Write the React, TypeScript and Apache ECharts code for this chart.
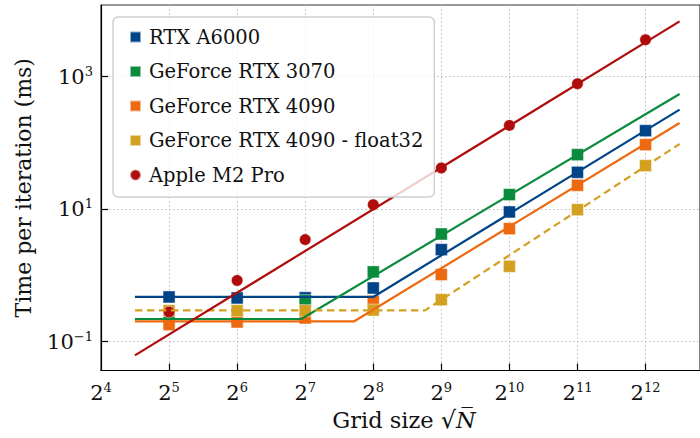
import React, { useEffect, useRef } from "react";
import * as echarts from "echarts";

// ---- data ----
const gridSizes = [32, 64, 128, 256, 512, 1024, 2048, 4096];
const rtxA6000 = [0.473, 0.457, 0.46, 0.646, 2.45, 9.08, 36, 153];
const rtx3070 = [0.215, 0.215, 0.416, 1.13, 4.22, 16.6, 66.5, null];
const rtx4090 = [0.181, 0.198, 0.2275, 0.406, 1.03, 5.08, 22.9, 94.1];
const rtx4090f32 = [0.294, 0.294, 0.294, 0.3, 0.43, 1.37, 9.82, 45.4];
const appleM2 = [0.28, 0.84, 3.47, 11.7, 41.9, 184, 783, 3615];

// fitted model lines (grid size, time)
const fitA6000X = [22.6, 256, 5793];
const fitA6000Y = [0.473, 0.473, 318];
const fit3070X = [22.6, 123, 5793];
const fit3070Y = [0.22, 0.22, 548];
const fit4090X = [22.6, 211, 5793];
const fit4090Y = [0.203, 0.203, 200];
const fit4090f32X = [22.6, 434, 5793];
const fit4090f32Y = [0.297, 0.297, 96.4];
const fitM2X = [22.6, 5793];
const fitM2Y = [0.062, 6840];

const xLabelTicks = [16, 32, 64, 128, 256, 512, 1024, 2048, 4096];
const yLabelTicks = [0.1, 10, 1000];

const names = [
  "RTX A6000",
  "GeForce RTX 3070",
  "GeForce RTX 4090",
  "GeForce RTX 4090 - float32",
  "Apple M2 Pro",
];
const colors = ["#004488", "#0a8c3c", "#ee6a10", "#d4a022", "#b00c0c"];

const FONT = '"DejaVu Serif", serif';

function pairs(xs: number[], ys: (number | null)[]) {
  const out: any[] = [];
  xs.forEach((x, i) => {
    if (ys[i] != null) out.push([x, ys[i]]);
  });
  return out;
}

function supLabel(base: string, exp: number) {
  const e = exp < 0 ? "\u2212" + -exp : String(exp);
  return `{b|${base}}{s|${e}}`;
}

const richSup = {
  b: { fontFamily: FONT, fontSize: 21, lineHeight: 24, color: "#111" },
  s: { fontFamily: FONT, fontSize: 13, verticalAlign: "top", color: "#111" },
};

export default function App() {
  const ref = useRef<HTMLDivElement>(null);
  useEffect(() => {
    if (!ref.current) return;
    const chart = echarts.init(ref.current, null, { renderer: "svg" });
    const values = [rtxA6000, rtx3070, rtx4090, rtx4090f32, appleM2];
    const fitsX = [fitA6000X, fit3070X, fit4090X, fit4090f32X, fitM2X];
    const fitsY = [fitA6000Y, fit3070Y, fit4090Y, fit4090f32Y, fitM2Y];
    const series: any[] = [];
    names.forEach((name, i) => {
      series.push({
        type: "line",
        name: name + " fit",
        data: pairs(fitsX[i], fitsY[i]),
        showSymbol: false,
        symbol: "none",
        silent: true,
        lineStyle: {
          color: colors[i],
          width: 2.2,
          type: i === 3 ? [7.5, 4.5] : "solid",
        },
      });
      series.push({
        type: "scatter",
        name,
        data: pairs(gridSizes, values[i]),
        symbol: i === 4 ? "circle" : "rect",
        symbolSize: i === 4 ? 11.5 : 12,
        itemStyle: {
          color: colors[i],
          opacity: 1,
          borderColor: "rgba(255,255,255,0.55)",
          borderWidth: 0.8,
        },
      });
    });

    chart.setOption({
      animation: false,
      grid: {
        left: 101,
        top: 5,
        right: -2,
        bottom: 67.5,
        show: true,
        borderColor: "#333",
        borderWidth: 1.2,
        backgroundColor: "transparent",
      },
      legend: {
        orient: "vertical",
        left: 113,
        top: 17,
        data: names.map((n, i) => ({ name: n, icon: i === 4 ? "circle" : "rect" })),
        itemWidth: 11,
        itemHeight: 11,
        itemGap: 12.5,
        padding: [9, 11, 11, 16],
        backgroundColor: "rgba(255,255,255,0.8)",
        borderColor: "#cfcfcf",
        borderWidth: 1.5,
        borderRadius: 5,
        selectedMode: false,
        textStyle: {
          fontFamily: FONT,
          fontSize: 19.5,
          color: "#111",
          lineHeight: 22,
          padding: [0, 0, 0, 3],
        },
      },
      xAxis: {
        type: "log",
        logBase: 2,
        min: 16,
        max: 7132,
        name: "Grid size {r|\u221A}{n|N\u0305}",
        nameLocation: "middle",
        nameGap: 37,
        nameTextStyle: {
          fontFamily: FONT,
          fontSize: 22.5,
          color: "#111",
          padding: [0, 0, 0, 7],
          rich: {
            r: { fontFamily: FONT, fontSize: 24, color: "#111" },
            n: { fontFamily: FONT, fontSize: 22.5, fontStyle: "italic", color: "#111" },
          },
        },
        axisLine: { show: true, lineStyle: { color: "#000", width: 1.2 } },
        axisTick: {
          show: true,
          inside: true,
          length: 7,
          lineStyle: { color: "#000", width: 1.2 },
          customValues: gridSizes,
        },
        minorTick: { show: false },
        axisLabel: {
          margin: 10,
          customValues: xLabelTicks,
          formatter: (v: number) => supLabel("2", Math.round(Math.log2(v))),
          rich: richSup,
        },
        splitLine: {
          show: true,
          lineStyle: { color: "#bbbbbb", width: 1, type: [1.5, 2.5] },
        },
      },
      yAxis: {
        type: "log",
        logBase: 10,
        min: 0.0367,
        max: 12078,
        name: "Time per iteration (ms)",
        nameLocation: "middle",
        nameGap: 67,
        nameTextStyle: { fontFamily: FONT, fontSize: 22, color: "#111" },
        axisLine: { show: true, lineStyle: { color: "#000", width: 1.2 } },
        axisTick: {
          show: true,
          inside: true,
          length: 7,
          lineStyle: { color: "#000", width: 1.2 },
          customValues: yLabelTicks,
        },
        minorTick: { show: false },
        axisLabel: {
          margin: 8,
          customValues: yLabelTicks,
          formatter: (v: number) => supLabel("10", Math.round(Math.log10(v))),
          rich: richSup,
        },
        splitLine: {
          show: true,
          lineStyle: { color: "#bbbbbb", width: 1, type: [1.5, 2.5] },
        },
      },
      series,
    });
    return () => chart.dispose();
  }, []);
  return (
    <div
      ref={ref}
      style={{ position: "fixed", left: 0, top: 0, width: 700, height: 438, background: "#fff" }}
    />
  );
}
